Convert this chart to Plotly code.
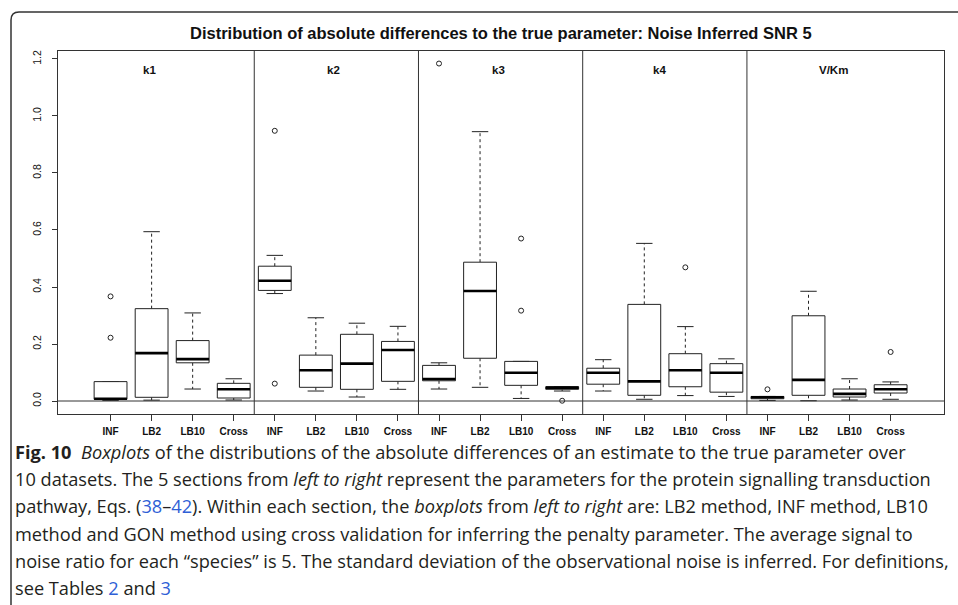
import plotly.graph_objects as go

# ---------------- data ----------------
sections = ["k1", "k2", "k3", "k4", "V/Km"]
methods = ["INF", "LB2", "LB10", "Cross"]

# per box (20 boxes, section-major order)
lower_whisker = [0.002, 0.003, 0.042, 0.0035,
                 0.377, 0.035, 0.014, 0.041,
                 0.042, 0.048, 0.009, 0.035,
                 0.035, 0.006, 0.019, 0.016,
                 0.002, 0.001, 0.0035, 0.006]
q1 = [0.006, 0.013, 0.134, 0.0105,
      0.388, 0.048, 0.041, 0.069,
      0.071, 0.150, 0.055, 0.041,
      0.059, 0.020, 0.050, 0.031,
      0.008, 0.020, 0.014, 0.028]
median = [0.008, 0.168, 0.147, 0.041,
          0.422, 0.108, 0.131, 0.179,
          0.077, 0.386, 0.099, 0.047,
          0.099, 0.069, 0.108, 0.099,
          0.013, 0.074, 0.025, 0.041]
q3 = [0.068, 0.324, 0.212, 0.062,
      0.473, 0.161, 0.234, 0.209,
      0.125, 0.487, 0.139, 0.050,
      0.115, 0.339, 0.166, 0.131,
      0.016, 0.299, 0.042, 0.057]
upper_whisker = [0.068, 0.594, 0.309, 0.078,
                 0.511, 0.292, 0.273, 0.262,
                 0.134, 0.945, 0.139, 0.050,
                 0.145, 0.553, 0.261, 0.148,
                 0.016, 0.385, 0.078, 0.067]
outliers = [[0.367, 0.222], [], [], [],
            [0.948, 0.061], [], [], [],
            [1.184], [], [0.570, 0.317], [0.001],
            [], [], [0.469], [],
            [0.041], [], [], [0.172]]

section_label_pos = [1.95, 6.42, 10.46, 14.36, 18.6]
y_ticks = [0.0, 0.2, 0.4, 0.6, 0.8, 1.0, 1.2]

title = "Distribution of absolute differences to the true parameter: Noise Inferred SNR 5"
caption_lines = [
    "<b>Fig. 10</b>  <i>Boxplots</i> of the distributions of the absolute differences of an estimate to the true parameter over",
    "10 datasets. The 5 sections from <i>left to right</i> represent the parameters for the protein signalling transduction",
    "pathway, Eqs. (<span style='color:#2f5fd6'>38</span>–<span style='color:#2f5fd6'>42</span>). Within each section, the <i>boxplots</i> from <i>left to right</i> are: LB2 method, INF method, LB10",
    "method and GON method using cross validation for inferring the penalty parameter. The average signal to",
    "noise ratio for each “species” is 5. The standard deviation of the observational noise is inferred. For definitions,",
    "see Tables <span style='color:#2f5fd6'>2</span> and <span style='color:#2f5fd6'>3</span>",
]

# ---------------- layout geometry ----------------
WIDTH, HEIGHT = 958, 605
L, R, T, B = 58, 14, 51, 191
PW, PH = WIDTH - L - R, HEIGHT - T - B


def px_x(px):
    return (px - L) / PW


def px_y(py):
    return (HEIGHT - B - py) / PH


n = len(median)
positions = list(range(1, n + 1))
bw = 0.4   # half box width
cw = 0.2   # half cap width
LINE = "#222222"

fig = go.Figure()

box_x, box_y = [], []
wh_x, wh_y = [], []
cap_x, cap_y = [], []
med_x, med_y = [], []
out_x, out_y = [], []
for i, p in enumerate(positions):
    box_x += [p - bw, p + bw, p + bw, p - bw, p - bw, None]
    box_y += [q1[i], q1[i], q3[i], q3[i], q1[i], None]
    med_x += [p - bw, p + bw, None]
    med_y += [median[i], median[i], None]
    if upper_whisker[i] > q3[i]:
        wh_x += [p, p, None]
        wh_y += [q3[i], upper_whisker[i], None]
    if lower_whisker[i] < q1[i]:
        wh_x += [p, p, None]
        wh_y += [q1[i], lower_whisker[i], None]
    cap_x += [p - cw, p + cw, None, p - cw, p + cw, None]
    cap_y += [upper_whisker[i], upper_whisker[i], None, lower_whisker[i], lower_whisker[i], None]
    for o in outliers[i]:
        out_x.append(p)
        out_y.append(o)

fig.add_trace(go.Scatter(x=wh_x, y=wh_y, mode="lines",
                         line=dict(color=LINE, width=1, dash="3px,3px"), hoverinfo="skip"))
fig.add_trace(go.Scatter(x=cap_x, y=cap_y, mode="lines",
                         line=dict(color=LINE, width=1), hoverinfo="skip"))
fig.add_trace(go.Scatter(x=box_x, y=box_y, mode="lines", fill="toself", fillcolor="white",
                         line=dict(color=LINE, width=1), hoverinfo="skip"))
fig.add_trace(go.Scatter(x=med_x, y=med_y, mode="lines",
                         line=dict(color="#000000", width=2.6), hoverinfo="skip"))
fig.add_trace(go.Scatter(x=out_x, y=out_y, mode="markers",
                         marker=dict(symbol="circle-open", size=5, color=LINE, line=dict(width=1)),
                         hoverinfo="skip"))

shapes = []
# section separators
for k in range(1, len(sections)):
    xs = 4 * k + 0.5
    shapes.append(dict(type="line", xref="x", yref="paper", x0=xs, x1=xs, y0=0, y1=1,
                       line=dict(color="#333333", width=1)))
# zero line
shapes.append(dict(type="line", xref="paper", yref="y", x0=0, x1=1, y0=0, y1=0,
                   line=dict(color="#333333", width=1)))
# outer rounded frame (top-left corner visible)
fx0, fy0 = px_x(11), px_y(12)
rx, ry = 8 / PW, 8 / PH
path = (f"M {px_x(990)},{fy0} L {fx0 + rx},{fy0} Q {fx0},{fy0} {fx0},{fy0 - ry} "
        f"L {fx0},{px_y(640)}")
shapes.append(dict(type="path", xref="paper", yref="paper", path=path,
                   line=dict(color="#333333", width=1.5)))

annotations = []
for lab, xp in zip(sections, section_label_pos):
    annotations.append(dict(x=xp, y=px_y(70), xref="x", yref="paper", text=f"<b>{lab}</b>",
                            showarrow=False, font=dict(family="Liberation Sans", size=11.5, color="#111111"),
                            xanchor="center", yanchor="middle"))
annotations.append(dict(x=px_x(501), y=px_y(33), xref="paper", yref="paper", text=f"<b>{title}</b>",
                        showarrow=False, font=dict(family="Liberation Sans", size=16.5, color="#111111"),
                        xanchor="center", yanchor="middle"))
line_y = [452, 479, 506, 534, 561, 588]
for txt, ly in zip(caption_lines, line_y):
    annotations.append(dict(x=px_x(13), y=px_y(ly), xref="paper", yref="paper", text=txt,
                            showarrow=False, align="left",
                            font=dict(family="Open Sans", size=18.2, color="#231f20"),
                            xanchor="left", yanchor="middle"))

ticktext = [f"<b>{m}</b>" for _ in sections for m in methods]

fig.update_layout(
    width=WIDTH, height=HEIGHT,
    margin=dict(l=L, r=R, t=T, b=B, pad=0),
    paper_bgcolor="white", plot_bgcolor="white",
    showlegend=False,
    shapes=shapes, annotations=annotations,
    xaxis=dict(range=[-0.28, 21.3], tickmode="array", tickvals=positions, ticktext=ticktext,
               ticks="outside", ticklen=6, tickcolor="#333333", showgrid=False, zeroline=False,
               showline=True, linecolor="#333333", linewidth=1, mirror=True,
               ticklabelstandoff=2,
               tickfont=dict(family="Liberation Sans", size=10, color="#111111")),
    yaxis=dict(range=[-0.0456, 1.228], tickmode="array", tickvals=y_ticks,
               ticktext=[f"{v:.1f}" for v in y_ticks], tickangle=-90,
               ticks="outside", ticklen=5, tickcolor="#333333", showgrid=False, zeroline=False,
               showline=True, linecolor="#333333", linewidth=1, mirror=True,
               ticklabelstandoff=7,
               tickfont=dict(family="Liberation Sans", size=10.5, color="#111111")),
)

fig.write_html("out.html")
